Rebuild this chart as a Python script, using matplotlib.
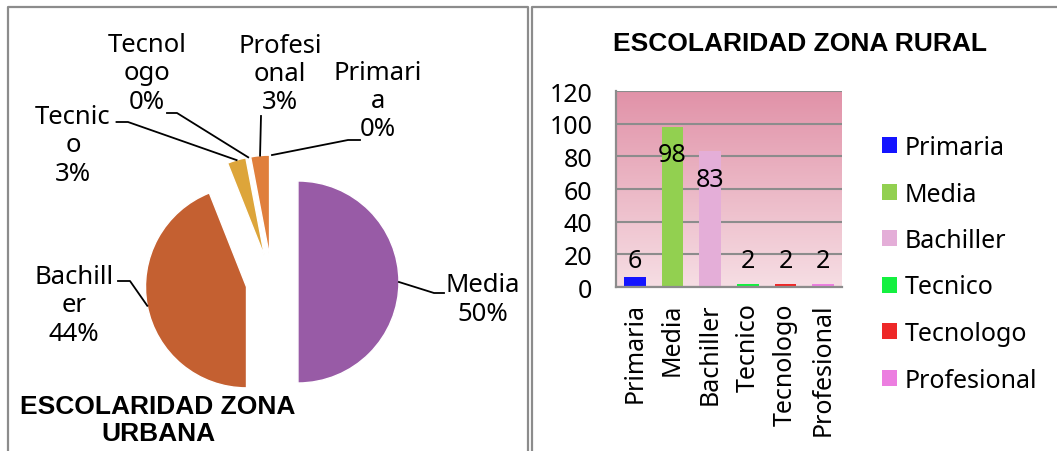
import matplotlib
matplotlib.use('Agg')
import matplotlib.pyplot as plt
import numpy as np
from matplotlib.colors import LinearSegmentedColormap

plt.rcParams['font.family'] = ['Noto Sans', 'DejaVu Sans']

### urban pie data ###
urb_cats = ['Primaria', 'Media', 'Bachiller', 'Tecnico', 'Tecnologo', 'Profesional']
urb_vals = [0, 50, 44, 3, 0, 3]
urb_wrapped = ['Primari\na', 'Media', 'Bachill\ner', 'Tecnic\no', 'Tecnol\nogo', 'Profesi\nonal']
urb_colors = ['#4F81BD', '#985BA6', '#C46031', '#DDA53A', '#9BBB59', '#E07F3C']

### rural bar data ###
rur_cats = ['Primaria', 'Media', 'Bachiller', 'Tecnico', 'Tecnologo', 'Profesional']
rur_vals = [6, 98, 83, 2, 2, 2]
rur_colors = ['#1414FF', '#92D050', '#E4AED8', '#14F040', '#EE2828', '#EC7EE0']
yticks = [0, 20, 40, 60, 80, 100, 120]

W, H = 1057, 452
fig = plt.figure(figsize=(W/100., H/100.), dpi=100)

### pie: full-figure axes, 1 data unit = R pixels ###
cx, cy, R = 272., 283., 101.
def px(x, y):
    return ((x - cx)/R, (cy - y)/R)

ax1 = fig.add_axes([0, 0, 1, 1])
wedges, _ = ax1.pie(urb_vals, colors=urb_colors, startangle=90, counterclock=False,
                    explode=[0.257]*len(urb_vals), radius=1.,
                    wedgeprops=dict(edgecolor='white', linewidth=1.))
ax1.set_xlim(-cx/R, (W - cx)/R)
ax1.set_ylim(-(H - cy)/R, cy/R)
ax1.axis('off')

# label layout (pixels): text centre, elbow, end of leader
lab_pos = {'Primaria': ((378, 101.5), (348, 141), (360, 141)),
           'Media': ((483, 300), (434, 294), (444, 294)),
           'Bachiller': ((74, 306), (130, 282), (118, 282)),
           'Tecnico': ((73, 146), (128, 123), (116.5, 123)),
           'Tecnologo': ((147, 74), (177, 114), (167, 114)),
           'Profesional': ((280, 74.5), (261, 117), (261, 117))}

for i, w in enumerate(wedges):
    cat = urb_cats[i]
    tpos, elb, end = lab_pos[cat]
    ang = np.deg2rad(0.5*(w.theta1 + w.theta2))
    x0 = w.center[0] + w.r*np.cos(ang)
    y0 = w.center[1] + w.r*np.sin(ang)
    e1 = px(*elb)
    e2 = px(*end)
    ax1.plot([x0, e1[0], e2[0]], [y0, e1[1], e2[1]], color='k', lw=1.3, zorder=1)
    txt = urb_wrapped[i] + '\n' + '%d%%' % urb_vals[i]
    ax1.text(*px(*tpos), txt, ha='center', va='center', multialignment='center',
             fontsize=18.5, linespacing=1.17)

ax1.text(*px(158, 420.5), 'ESCOLARIDAD ZONA\nURBANA', ha='center', va='center',
         family=['Liberation Sans', 'DejaVu Sans'], weight='bold', fontsize=19, linespacing=1.15)

### panel frames ###
fc = '#8c8c8c'
p = [px(8, 460), px(8, 8), px(528, 8), px(528, 460)]
ax1.plot([q[0] for q in p], [q[1] for q in p], color=fc, lw=1.6, clip_on=False)
p = [px(532, 460), px(532, 8), px(1060, 8)]
ax1.plot([q[0] for q in p], [q[1] for q in p], color=fc, lw=1.6, clip_on=False)

### rural bar chart ###
ax2 = fig.add_axes([616./W, (H - 288.)/H, 226./W, 196./H])
cmap = LinearSegmentedColormap.from_list('bg', ['#F6DEE4', '#E192A8'])
ax2.imshow(np.linspace(0, 1, 256).reshape(-1, 1), extent=(-0.5, 5.5, 0, 120), origin='lower',
           cmap=cmap, aspect='auto', zorder=0)
x = np.arange(len(rur_cats))
for i in range(len(rur_cats)):
    ax2.bar(x[i], rur_vals[i], width=0.58, color=rur_colors[i], label=rur_cats[i], zorder=2)
    if rur_vals[i] > 50:
        ly = rur_vals[i] - 17
    else:
        ly = 16
    ax2.text(x[i], ly, str(rur_vals[i]), ha='center', va='center', fontsize=18, zorder=3)

ax2.set_xlim(-0.5, 5.5)
ax2.set_ylim(0, 120)
ax2.set_yticks(yticks)
ax2.set_yticklabels([str(t) for t in yticks], fontsize=18)
ax2.set_xticks(x)
ax2.set_xticklabels(rur_cats, rotation=90, fontsize=18)
ax2.tick_params(axis='both', length=0)
ax2.tick_params(axis='y', pad=17)
ax2.tick_params(axis='x', pad=11)
ax2.yaxis.grid(True, color=fc, lw=1.5, zorder=1)
ax2.set_axisbelow(True)
for s in ['top', 'right']:
    ax2.spines[s].set_visible(False)
for s in ['left', 'bottom']:
    ax2.spines[s].set_color(fc)
    ax2.spines[s].set_linewidth(1.6)

ax2.legend(loc='upper left', bbox_to_anchor=(882./W, 1 - 136./H), bbox_transform=fig.transFigure,
           frameon=False, fontsize=18, handlelength=0.6, handleheight=0.6, handletextpad=0.3,
           labelspacing=0.86, borderaxespad=0, borderpad=0)

fig.text(800./W, 1 - 44./H, 'ESCOLARIDAD ZONA RURAL', ha='center', va='center',
         family=['Liberation Sans', 'DejaVu Sans'], weight='bold', fontsize=19)

fig.savefig('out.png', dpi=100)
